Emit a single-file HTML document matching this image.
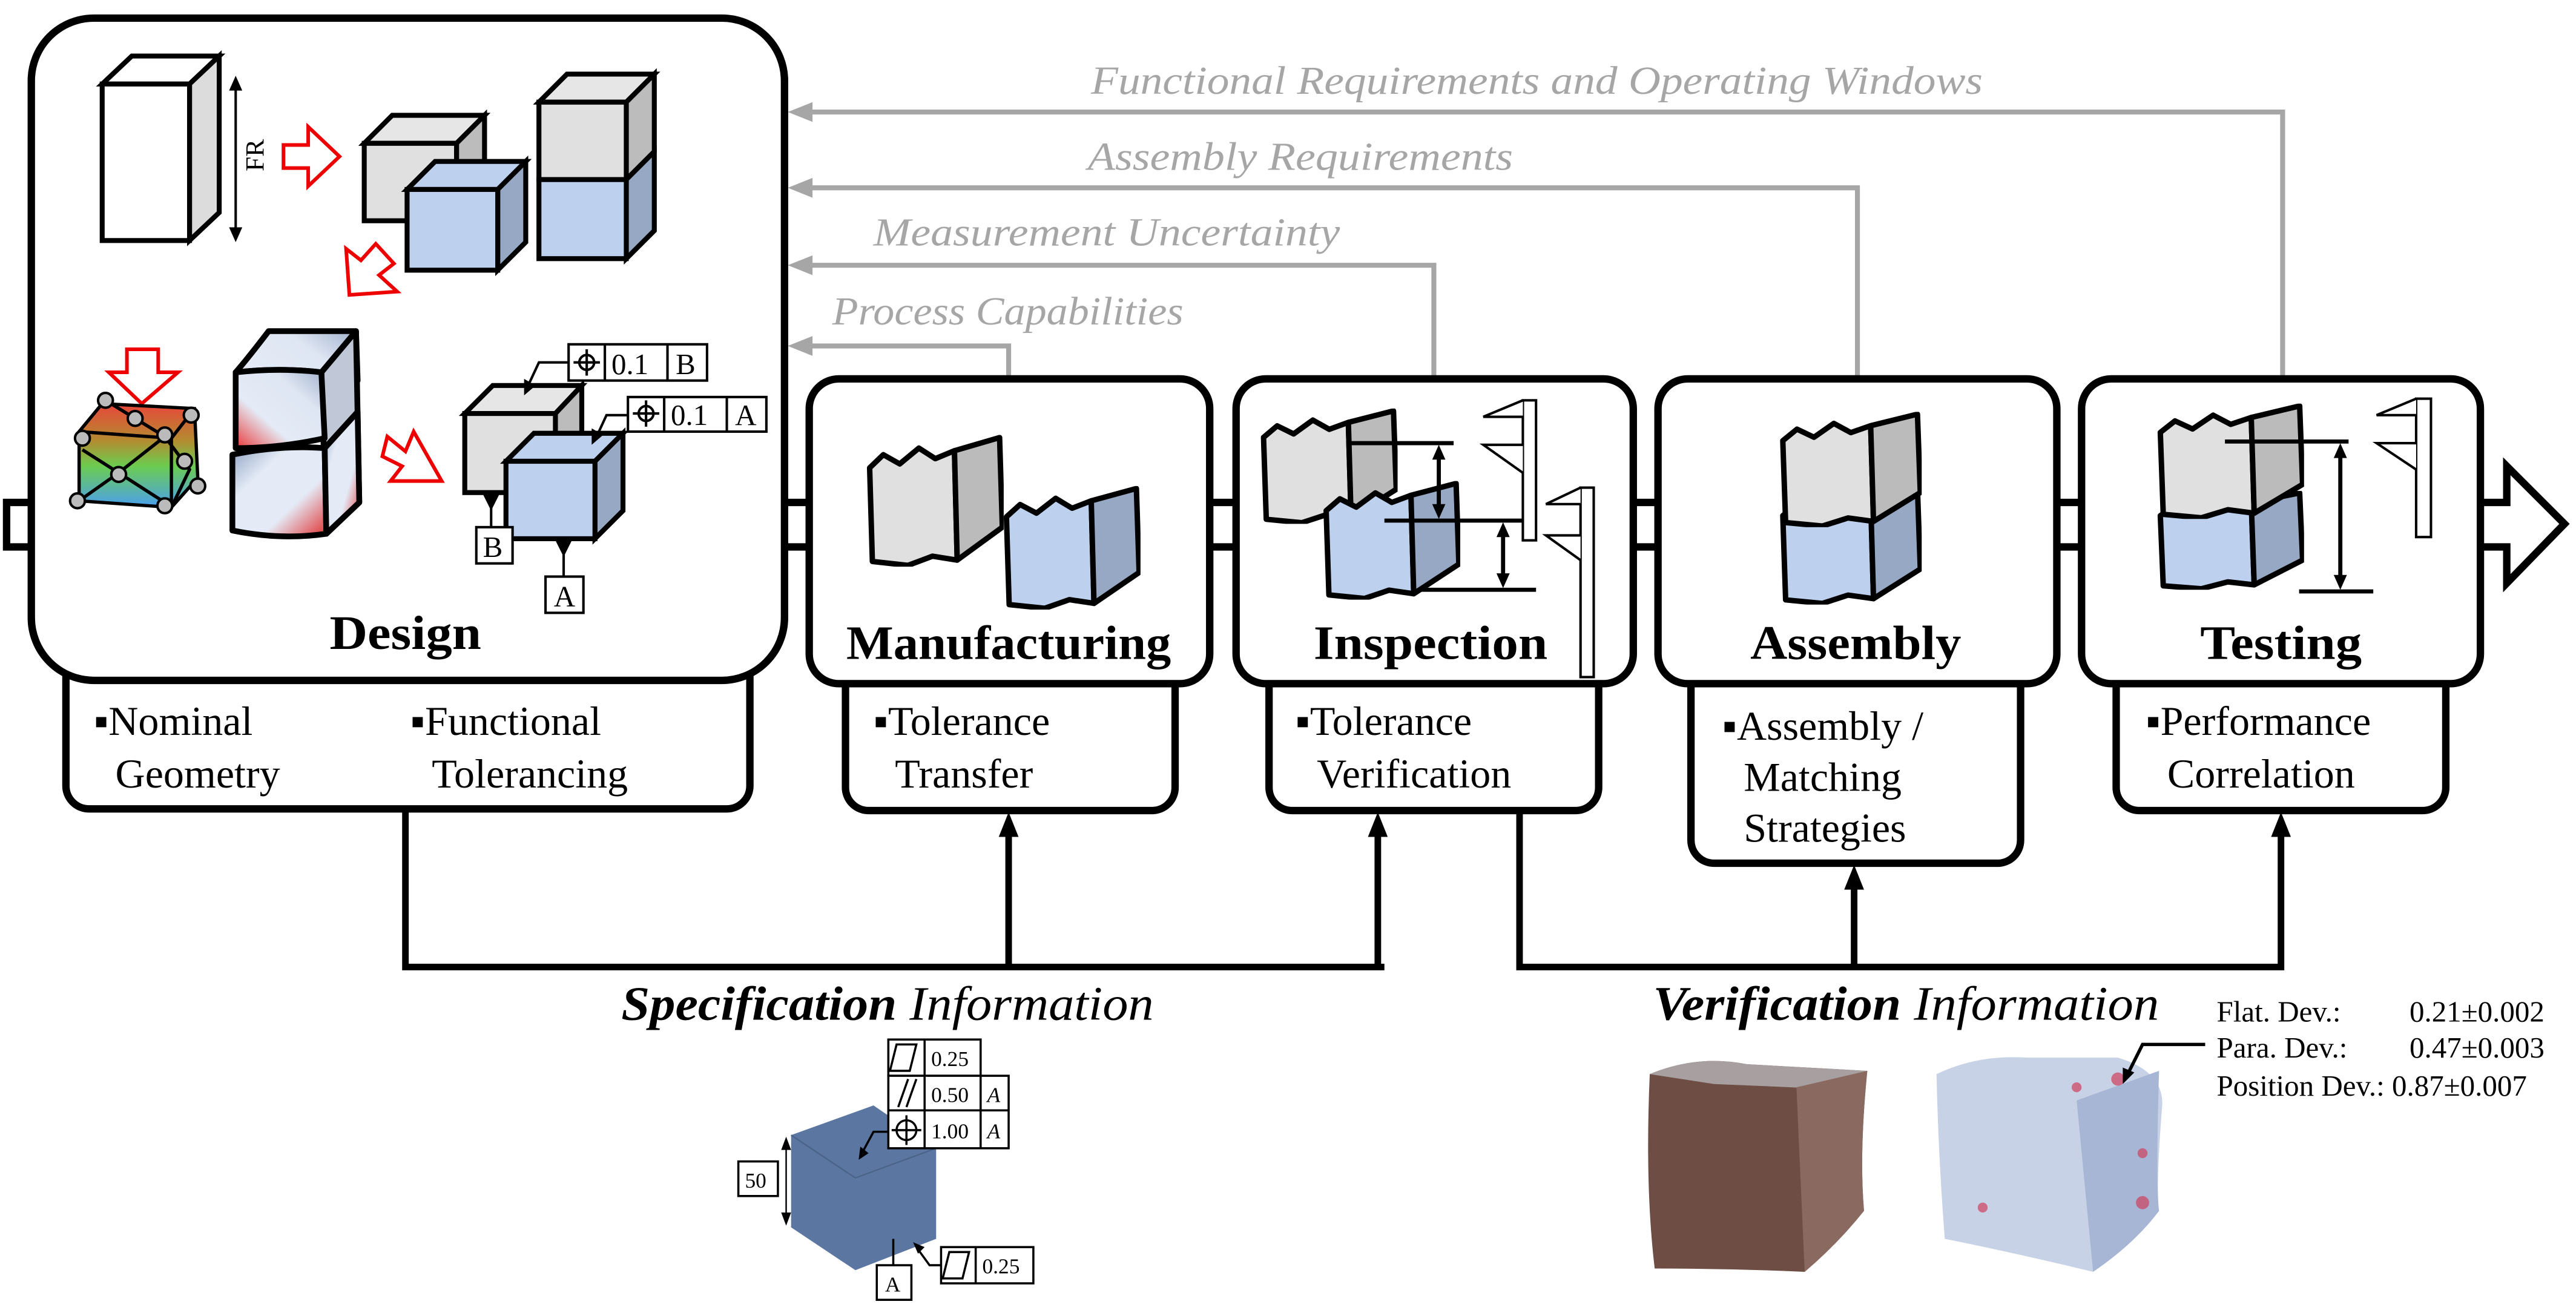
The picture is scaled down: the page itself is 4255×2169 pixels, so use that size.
<!DOCTYPE html>
<html><head><meta charset="utf-8"><style>
html,body{margin:0;padding:0;background:#fff;}
svg{display:block;}
text{font-family:"Liberation Serif",serif;}
</style></head><body>
<svg width="4255" height="2169" viewBox="0 0 1563 797" preserveAspectRatio="none" xmlns="http://www.w3.org/2000/svg">
<defs>
<linearGradient id="wg1" x1="0" y1="1" x2="1" y2="0"><stop offset="0" stop-color="#e83a3a"/><stop offset="0.35" stop-color="#e4ebf6"/><stop offset="0.7" stop-color="#dfe6f3"/><stop offset="1" stop-color="#9fb0cc"/></linearGradient>
<linearGradient id="wg2" x1="0" y1="0" x2="1" y2="1"><stop offset="0" stop-color="#8fa3c4"/><stop offset="0.3" stop-color="#e4ebf6"/><stop offset="0.65" stop-color="#e4ebf6"/><stop offset="1" stop-color="#e03030"/></linearGradient>
<linearGradient id="mg" x1="0" y1="0" x2="0" y2="1"><stop offset="0" stop-color="#e8463a"/><stop offset="0.35" stop-color="#b58a30"/><stop offset="0.6" stop-color="#6ccc50"/><stop offset="1" stop-color="#4aa0f0"/></linearGradient>
<symbol id="pg" viewBox="0 0 100 100" preserveAspectRatio="none">
<path d="M2,25 L12,15 L24,22 L38,10 L50,18 L64,12 L66,95 L48,92 L30,99 L4,96 Z" fill="#e0e0e0" stroke="#000" stroke-width="9" vector-effect="non-scaling-stroke" stroke-linejoin="round"/>
<path d="M64,12 L97,2 L99,70 L66,95 Z" fill="#bbbbbb" stroke="#000" stroke-width="9" vector-effect="non-scaling-stroke" stroke-linejoin="round"/>
</symbol>
<symbol id="pb" viewBox="0 0 100 100" preserveAspectRatio="none">
<path d="M2,25 L12,15 L24,22 L38,10 L50,18 L64,12 L66,95 L48,92 L30,99 L4,96 Z" fill="#bdd0ee" stroke="#000" stroke-width="9" vector-effect="non-scaling-stroke" stroke-linejoin="round"/>
<path d="M64,12 L97,2 L99,70 L66,95 Z" fill="#97a8c4" stroke="#000" stroke-width="9" vector-effect="non-scaling-stroke" stroke-linejoin="round"/>
</symbol>
</defs>

<g stroke="#a6a6a6" stroke-width="3" fill="none">
<polyline points="490,68 1385,68 1385,232"/>
<polyline points="490,114 1127,114 1127,232"/>
<polyline points="490,161 870,161 870,232"/>
<polyline points="490,210 612,210 612,232"/>
</g>
<g fill="#a6a6a6">
<polygon points="478,68 493,62 493,74"/>
<polygon points="478,114 493,108 493,120"/>
<polygon points="478,161 493,155 493,167"/>
<polygon points="478,210 493,204 493,216"/>
</g>
<g fill="#a6a6a6" font-style="italic" font-size="24">
<text x="662" y="57" textLength="541" lengthAdjust="spacingAndGlyphs">Functional Requirements and Operating Windows</text>
<text x="660" y="103" textLength="258" lengthAdjust="spacingAndGlyphs">Assembly Requirements</text>
<text x="530" y="149" textLength="283" lengthAdjust="spacingAndGlyphs">Measurement Uncertainty</text>
<text x="505" y="197" textLength="213" lengthAdjust="spacingAndGlyphs">Process Capabilities</text>
</g>

<polygon points="4,305 1521,305 1521,283 1556,318 1521,354 1521,332 4,332" fill="#fff" stroke="#000" stroke-width="4.5" stroke-linejoin="miter"/>

<g stroke="#000" stroke-width="4" fill="none">
<polyline points="246,490 246,587 840,587"/>
<line x1="612" y1="587" x2="612" y2="505"/>
<line x1="836" y1="587" x2="836" y2="505"/>
<polyline points="922,490 922,587 1384,587 1384,505"/>
<line x1="1125" y1="587" x2="1125" y2="537"/>
</g>
<g fill="#000">
<polygon points="612,493 606,508 618,508"/>
<polygon points="836,493 830,508 842,508"/>
<polygon points="1125,525 1119,540 1131,540"/>
<polygon points="1384,493 1378,508 1390,508"/>
</g>

<g fill="#fff" stroke="#000" stroke-width="4.5">
<rect x="40" y="370" width="415" height="121" rx="14"/>
<rect x="513" y="390" width="200" height="102" rx="14"/>
<rect x="770" y="390" width="200" height="102" rx="14"/>
<rect x="1026" y="390" width="200" height="134" rx="14"/>
<rect x="1284" y="390" width="200" height="102" rx="14"/>
</g>
<g fill="#fff" stroke="#000" stroke-width="4.5">
<rect x="19" y="11" width="457" height="402" rx="38"/>
<rect x="491" y="230" width="243" height="185" rx="18"/>
<rect x="750" y="230" width="241" height="185" rx="18"/>
<rect x="1006" y="230" width="242" height="185" rx="18"/>
<rect x="1263" y="230" width="242" height="185" rx="18"/>
</g>

<g font-weight="bold" font-size="29" text-anchor="middle" fill="#000">
<text x="246" y="394" textLength="92" lengthAdjust="spacingAndGlyphs">Design</text>
<text x="612" y="400" textLength="197" lengthAdjust="spacingAndGlyphs">Manufacturing</text>
<text x="868" y="400" textLength="142" lengthAdjust="spacingAndGlyphs">Inspection</text>
<text x="1126" y="400" textLength="128" lengthAdjust="spacingAndGlyphs">Assembly</text>
<text x="1384" y="400" textLength="98" lengthAdjust="spacingAndGlyphs">Testing</text>
</g>
<g font-size="25" fill="#000">
<text x="57" y="446">▪Nominal</text><text x="70" y="478">Geometry</text>
<text x="249" y="446">▪Functional</text><text x="262" y="478">Tolerancing</text>
<text x="530" y="446">▪Tolerance</text><text x="543" y="478">Transfer</text>
<text x="786" y="446">▪Tolerance</text><text x="799" y="478">Verification</text>
<text x="1045" y="449">▪Assembly /</text><text x="1058" y="480">Matching</text><text x="1058" y="511">Strategies</text>
<text x="1302" y="446">▪Performance</text><text x="1315" y="478">Correlation</text>
</g>

<g stroke="#000" stroke-width="3" stroke-linejoin="miter">
<polygon points="62,51 80,34 133,34 115,51" fill="#fff"/>
<polygon points="115,51 133,34 133,129 115,146" fill="#dcdcdc"/>
<rect x="62" y="51" width="53" height="95" fill="#fff"/>
<polygon points="221,87 238,70 294,70 277,87" fill="#e6e6e6"/>
<polygon points="277,87 294,70 294,117 277,134" fill="#bcbcbc"/>
<rect x="221" y="87" width="56" height="47" fill="#e0e0e0"/>
<polygon points="247,115 264,98 319,98 302,115" fill="#bdd0ee"/>
<polygon points="302,115 319,98 319,147 302,164" fill="#97a8c4"/>
<rect x="247" y="115" width="55" height="49" fill="#bdd0ee"/>
<polygon points="327,62 344,45 397,45 380,62" fill="#e6e6e6"/>
<polygon points="380,62 397,45 397,92 380,109" fill="#bcbcbc"/>
<polygon points="380,109 397,92 397,140 380,157" fill="#97a8c4"/>
<rect x="327" y="62" width="53" height="47" fill="#e0e0e0"/>
<rect x="327" y="109" width="53" height="48" fill="#bdd0ee"/>
</g>
<g stroke="#000" stroke-width="1.5"><line x1="143" y1="51" x2="143" y2="142"/></g>
<polygon points="143,46 139,55 147,55" fill="#000"/>
<polygon points="143,147 139,138 147,138" fill="#000"/>
<text x="0" y="0" font-size="16" transform="translate(160,104) rotate(-90)">FR</text>
<g fill="#fff" stroke="#e00" stroke-width="2.2">
<polygon points="172,88 187,88 187,77 206,95 187,113 187,102 172,102"/>
<polygon points="228,148 239,160 230,167 241,177 212,179 210,151 219,158"/>
<polygon points="77,212 96,212 96,226 108,226 86,245 66,226 77,226"/>
<polygon points="235,265 246,274 251,262 268,292 237,292 244,283 232,277"/>
</g>
<g stroke="#000" stroke-width="2">
<polygon points="48,262 62,245 118,248 120,290 104,308 48,304" fill="url(#mg)"/>
<polyline points="48,262 104,266 118,248" fill="none"/>
<polyline points="104,266 104,308" fill="none"/>
<polyline points="64,243 82,254 100,265 115,285 104,308" fill="none"/>
<polyline points="50,273 72,287 100,265" fill="none"/>
<polyline points="72,287 100,305" fill="none"/>
<polyline points="48,304 72,287" fill="none"/>
</g>
<g fill="#bbb" stroke="#000" stroke-width="1.5">
<circle cx="64" cy="243" r="4.5"/><circle cx="82" cy="254" r="4.5"/><circle cx="116" cy="252" r="4.5"/>
<circle cx="50" cy="266" r="4.5"/><circle cx="100" cy="264" r="4.5"/><circle cx="112" cy="280" r="4.5"/>
<circle cx="72" cy="288" r="4.5"/><circle cx="120" cy="295" r="4.5"/><circle cx="47" cy="304" r="4.5"/><circle cx="100" cy="307" r="4.5"/>
</g>
<g stroke="#000" stroke-width="3.5" stroke-linejoin="round">
<path d="M143,226 Q150,218 163,201 L216,201 L217,231 L198,255 L195,226 Q170,223 143,226 Z" fill="url(#wg1)"/>
<path d="M195,226 L216,201 L218,305 L198,324 Z" fill="#c0c8d8"/>
<path d="M143,226 Q170,223 195,226 L197,266 Q170,272 143,272 Z" fill="url(#wg1)"/>
<path d="M141,276 Q170,270 197,272 L198,324 Q170,328 141,322 Z" fill="url(#wg2)"/>
<path d="M197,272 L217,250 L218,305 L198,324 Z" fill="url(#wg2)"/>
</g>
<g stroke="#000" stroke-width="3">
<polygon points="282,251 299,234 353,234 337,251" fill="#e6e6e6"/>
<polygon points="337,251 353,234 353,282 337,299" fill="#bcbcbc"/>
<rect x="282" y="251" width="55" height="48" fill="#e0e0e0"/>
<polygon points="307,280 324,263 378,263 361,280" fill="#bdd0ee"/>
<polygon points="361,280 378,263 378,310 361,327" fill="#97a8c4"/>
<rect x="307" y="280" width="54" height="47" fill="#bdd0ee"/>
</g>
<g stroke="#000" stroke-width="1.5" fill="#fff">
<rect x="345" y="209" width="84" height="22"/><line x1="367" y1="209" x2="367" y2="231"/><line x1="405" y1="209" x2="405" y2="231"/>
<rect x="381" y="241" width="84" height="21"/><line x1="403" y1="241" x2="403" y2="262"/><line x1="441" y1="241" x2="441" y2="262"/>
<rect x="289" y="320" width="22" height="22"/>
<rect x="331" y="350" width="23" height="22"/>
<circle cx="356" cy="220" r="4.5" fill="none"/><line x1="348" y1="220" x2="364" y2="220"/><line x1="356" y1="212" x2="356" y2="228"/>
<circle cx="392" cy="251" r="4.5" fill="none"/><line x1="384" y1="251" x2="400" y2="251"/><line x1="392" y1="243" x2="392" y2="259"/>
<polyline points="345,220 327,220 320,235" fill="none"/>
<polyline points="381,252 368,252 362,265" fill="none"/>
<line x1="298" y1="300" x2="298" y2="320"/>
<line x1="342" y1="328" x2="342" y2="350"/>
</g>
<g fill="#000">
<polygon points="318,240 318,230 325,234"/>
<polygon points="359,270 359,260 366,264"/>
<polygon points="293,300 303,300 298,310"/>
<polygon points="337,328 347,328 342,338"/>
</g>
<g font-size="18" fill="#000">
<text x="371" y="227">0.1</text><text x="410" y="227">B</text>
<text x="407" y="258">0.1</text><text x="446" y="258">A</text>
<text x="293" y="338">B</text><text x="336" y="368">A</text>
</g>

<use href="#pg" x="526" y="264" width="83" height="80"/>
<use href="#pb" x="609" y="295" width="83" height="75"/>

<use href="#pg" x="765" y="248" width="83" height="70"/>
<use href="#pb" x="803" y="292" width="83" height="72"/>
<g stroke="#000" stroke-width="2.5" fill="none">
<line x1="820" y1="269" x2="882" y2="269"/>
<line x1="840" y1="316" x2="930" y2="316"/>
<line x1="862" y1="358" x2="932" y2="358"/>
<line x1="873" y1="275" x2="873" y2="312"/>
<line x1="912" y1="321" x2="912" y2="353"/>
</g>
<g fill="#000">
<polygon points="873,270 869,279 877,279"/><polygon points="873,315 869,306 877,306"/>
<polygon points="912,317 908,326 916,326"/><polygon points="912,357 908,348 916,348"/>
</g>
<g stroke="#000" stroke-width="1.5" fill="#fff">
<rect x="924" y="243" width="8" height="85"/>
<polyline points="924,253 900,253 924,243" />
<polyline points="924,270 900,270 924,287"/>
<rect x="959" y="296" width="8" height="115"/>
<polyline points="959,306 938,306 959,296"/>
<polyline points="959,325 938,325 959,340"/>
</g>

<use href="#pb" x="1080" y="295" width="86" height="72"/>
<use href="#pg" x="1080" y="250" width="86" height="70"/>

<use href="#pb" x="1309" y="298" width="89" height="60"/>
<use href="#pg" x="1309" y="245" width="89" height="70"/>
<g stroke="#000" stroke-width="2.5" fill="none">
<line x1="1350" y1="268" x2="1425" y2="268"/>
<line x1="1395" y1="359" x2="1440" y2="359"/>
<line x1="1420" y1="274" x2="1420" y2="353"/>
</g>
<g fill="#000"><polygon points="1420,269 1416,278 1424,278"/><polygon points="1420,358 1416,349 1424,349"/></g>
<g stroke="#000" stroke-width="1.5" fill="#fff">
<rect x="1466" y="242" width="9" height="84"/>
<polyline points="1466,252 1442,252 1466,242"/>
<polyline points="1466,269 1442,269 1466,285"/>
</g>

<text x="377" y="619" font-size="29" font-style="italic" fill="#000" textLength="323" lengthAdjust="spacingAndGlyphs"><tspan font-weight="bold">Specification</tspan> Information</text>
<text x="1003" y="619" font-size="29" font-style="italic" fill="#000" textLength="307" lengthAdjust="spacingAndGlyphs"><tspan font-weight="bold">Verification</tspan> Information</text>

<polygon points="480,689 530,671 568,697 568,752 519,771 480,745" fill="#5b76a0"/>
<polyline points="480,689 519,715 568,697 M519,715 L519,771" fill="none" stroke="#4a6288" stroke-width="0.8"/>
<g stroke="#000" stroke-width="1.3" fill="#fff">
<rect x="539" y="631" width="56" height="22"/>
<rect x="539" y="653" width="73" height="44"/>
<line x1="539" y1="674" x2="612" y2="674"/>
<line x1="561" y1="631" x2="561" y2="697"/><line x1="595" y1="653" x2="595" y2="697"/>
<rect x="448" y="705" width="24" height="21"/>
<rect x="532" y="768" width="21" height="21"/>
<rect x="571" y="757" width="56" height="22"/><line x1="592" y1="757" x2="592" y2="779"/>
<line x1="477" y1="692" x2="477" y2="742" stroke-width="0.9"/>
<polyline points="539,687 530,687 523,700" fill="none"/>
<polyline points="571,768 564,768 556,757" fill="none"/>
<line x1="542" y1="752" x2="542" y2="768"/>
<polygon points="544,634 556,634 552,650 540,650" fill="none"/>
<line x1="545" y1="672" x2="551" y2="655"/><line x1="550" y1="672" x2="556" y2="655"/>
<circle cx="550" cy="686" r="6" fill="none"/><line x1="541" y1="686" x2="559" y2="686"/><line x1="550" y1="677" x2="550" y2="695"/>
<polygon points="576,760 588,760 584,776 572,776" fill="none"/>
</g>
<g fill="#000"><polygon points="477,690 474,698 480,698"/><polygon points="477,744 474,736 480,736"/><polygon points="521,704 522,696 527,700"/><polygon points="554,754 561,757 557,761"/></g>
<g font-size="13" fill="#000">
<text x="565" y="647">0.25</text><text x="565" y="669">0.50</text><text x="565" y="691">1.00</text>
<text x="599" y="669" font-style="italic">A</text><text x="599" y="691" font-style="italic">A</text>
<text x="452" y="721">50</text><text x="537" y="784">A</text><text x="596" y="773">0.25</text>
</g>

<path d="M1001,652 Q1030,640 1060,646 L1133,650 Q1128,700 1131,735 Q1115,755 1095,772 Q1050,770 1004,770 Q998,720 1001,652 Z" fill="#6e4e44"/>
<path d="M1001,652 Q1030,640 1060,646 L1133,650 L1128,662 Q1090,660 1040,658 Z" fill="#a8a0a0"/>
<path d="M1090,660 L1133,650 Q1128,700 1131,735 Q1115,755 1095,772 Z" fill="#8a6a60"/>
<path d="M1175,652 Q1200,640 1230,642 L1285,642 Q1312,650 1312,670 Q1308,720 1310,735 Q1295,755 1270,772 Q1220,760 1180,752 Q1176,700 1175,652 Z" fill="#c8d2e6"/>
<path d="M1260,668 L1310,650 Q1308,720 1310,735 Q1295,755 1270,772 Z" fill="#a6b6d4"/>
<g fill="#d04060" opacity="0.7"><circle cx="1285" cy="655" r="4"/><circle cx="1300" cy="700" r="3"/><circle cx="1300" cy="730" r="4"/><circle cx="1203" cy="733" r="3"/><circle cx="1260" cy="660" r="3"/></g>
<g stroke="#000" stroke-width="2" fill="none"><polyline points="1338,634 1300,634 1291,652"/></g>
<polygon points="1288,658 1288,648 1295,651" fill="#000"/>
<g font-size="18" fill="#000">
<text x="1345" y="620">Flat. Dev.:</text><text x="1462" y="620">0.21±0.002</text>
<text x="1345" y="642">Para. Dev.:</text><text x="1462" y="642">0.47±0.003</text>
<text x="1345" y="665">Position Dev.: 0.87±0.007</text>
</g>
</svg>
</body></html>
